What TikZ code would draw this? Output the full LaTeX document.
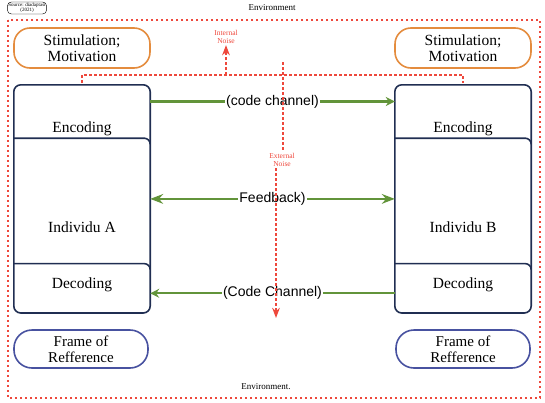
\documentclass[tikz,border=0pt]{standalone}
\usepackage{fontspec}
\setmainfont{Liberation Serif}
\newfontfamily\arialfont{Liberation Sans}
\usetikzlibrary{arrows.meta,positioning}
\definecolor{envred}{RGB}{238,72,60}
\definecolor{stimorange}{RGB}{228,140,62}
\definecolor{boxnavy}{RGB}{32,46,82}
\definecolor{chgreen}{RGB}{98,148,58}
\definecolor{refblue}{RGB}{72,82,160}

\begin{document}
\begin{tikzpicture}[x=1pt, y=-1pt, >=Stealth,
    section/.style={minimum width=136pt, inner sep=0pt},
    boxpen/.style={draw=boxnavy, line width=1.6pt},
    stim/.style={draw=stimorange, line width=1.6pt, rounded corners=16pt, minimum width=136pt, minimum height=40pt, align=center, font=\fontsize{15.5}{16.5}\selectfont},
    refbox/.style={draw=refblue, line width=1.6pt, rounded corners=18pt, minimum width=134pt, minimum height=38pt, align=center, font=\fontsize{15}{16}\selectfont},
    boxtext/.style={font=\fontsize{15.5}{16}\selectfont},
    chan/.style={draw=chgreen, line width=2.2pt, arrows={-Stealth[length=9pt,width=9pt]}},
    chlabel/.style={fill=white, inner sep=1pt, font=\arialfont\fontsize{14}{15}\selectfont},
    envline/.style={draw=envred, line width=2pt, dash pattern=on 2pt off 3pt},
    noiseline/.style={draw=envred, line width=1.6pt, dash pattern=on 3pt off 2pt},
    noise/.style={text=envred, font=\fontsize{7.5}{8.5}\selectfont, align=center, inner sep=1pt},
    envtext/.style={font=\fontsize{9}{10}\selectfont, inner sep=1pt}]
    \useasboundingbox (0,0) rectangle (545,402);

    % environment
    \draw[envline] (8,20) rectangle (540,398);
    \node[envtext] (envtop) at (272,8) {Environment};
    \node[envtext] (envbot) at (266,387) {Environment.};
    \node[draw, rounded corners=4pt, line width=0.4pt, fill=white, align=center, inner sep=1pt, font=\fontsize{5}{5.5}\selectfont] (src) at (27,8) {Source: diadaptasi\\(2021)};

    % individu A
    \node[stim] (stimA) at (82,48) {Stimulation;\\Motivation};
    \node[section, minimum height=53pt] (encA) at (82,111.5) {};
    \node[section, minimum height=125pt, below=0pt of encA] (indA) {};
    \node[section, minimum height=49pt, below=0pt of indA] (decA) {};
    \draw[boxpen, rounded corners=7pt] (encA.north west) rectangle (decA.south east);
    \draw[boxpen] (indA.north west) -- ([xshift=-6pt]indA.north east) to[out=0,in=90] ([yshift=-6pt]indA.north east);
    \draw[boxpen] (decA.north west) -- ([xshift=-6pt]decA.north east) to[out=0,in=90] ([yshift=-6pt]decA.north east);
    \node[boxtext] (encAtext) at (82,129) {Encoding};
    \node[boxtext] (indAtext) at (82,227) {Individu A};
    \node[boxtext] (decAtext) at (82,285) {Decoding};
    \node[refbox] (refA) at (81,349) {Frame of\\Refference};

    % individu B
    \node[stim] (stimB) at (463,48) {Stimulation;\\Motivation};
    \node[section, minimum height=53pt] (encB) at (463,111.5) {};
    \node[section, minimum height=125pt, below=0pt of encB] (indB) {};
    \node[section, minimum height=49pt, below=0pt of indB] (decB) {};
    \draw[boxpen, rounded corners=7pt] (encB.north west) rectangle (decB.south east);
    \draw[boxpen] (indB.north west) -- ([xshift=-6pt]indB.north east) to[out=0,in=90] ([yshift=-6pt]indB.north east);
    \draw[boxpen] (decB.north west) -- ([xshift=-6pt]decB.north east) to[out=0,in=90] ([yshift=-6pt]decB.north east);
    \node[boxtext] (encBtext) at (463,129) {Encoding};
    \node[boxtext] (indBtext) at (463,227) {Individu B};
    \node[boxtext] (decBtext) at (463,285) {Decoding};
    \node[refbox] (refB) at (463,349) {Frame of\\Refference};

    % channels
    \draw[chan] ([yshift=10pt]encA.east) -- node[chlabel] (codeA) {(code channel)} ([yshift=10pt]encB.west);
    \draw[chan, <->] ([yshift=2pt]indA.east) -- node[chlabel] (feedback) {Feedback)} ([yshift=2pt]indB.west);
    \draw[chan] ([yshift=-5pt]decB.west) -- node[chlabel] (codeB) {(Code Channel)} ([yshift=-5pt]decA.east);

    % noise
    \draw[noiseline] (82,83) -- (82,75) -- (463,75) -- (463,83);
    \node[noise] (intnoise) at (226,37) {Internal\\Noise};
    \coordinate (intbase) at (226,75);
    \draw[noiseline, ->] (intbase) -- (intnoise.south);
    \node[noise] (extnoise) at (282,160) {External\\Noise};
    \coordinate (exttop) at (283,62);
    \coordinate (extend) at (276,318);
    \draw[noiseline] (exttop) -- (exttop |- extnoise.north);
    \draw[noiseline, ->] (extend |- extnoise.south) -- (extend);
\end{tikzpicture}
\end{document}
